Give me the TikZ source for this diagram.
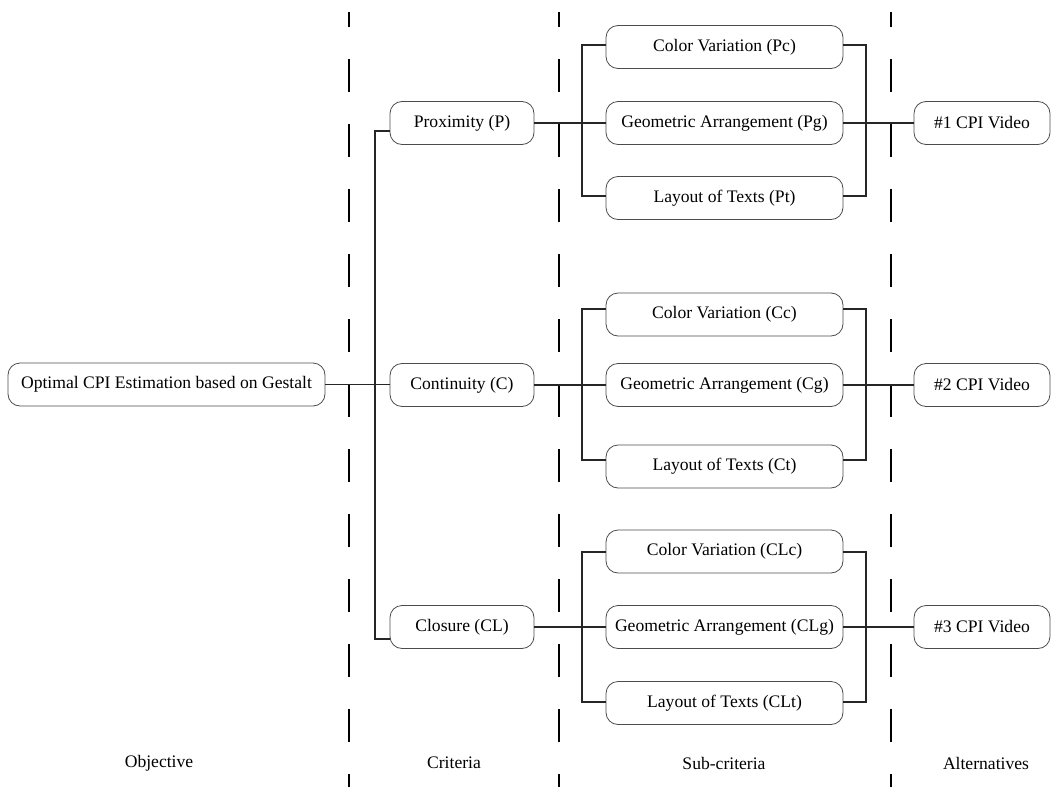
\documentclass[tikz,border=0pt]{standalone}
\usepackage{fontspec}
\setmainfont{Liberation Serif}
\begin{document}
\begin{tikzpicture}[x=1pt,y=-1pt,
  box/.style={draw=black!70, line width=0.8pt, rounded corners=12pt, minimum height=43pt, inner sep=0pt, font=\fontsize{17.6}{20}\selectfont},
  conn/.style={line width=1.3pt, draw=black!85},
  sep/.style={line width=1.2pt, draw=black, dash pattern=on 33pt off 32pt, dash phase=18pt},
  lab/.style={font=\fontsize{17.6}{20}\selectfont}]
\useasboundingbox (0,0) rectangle (1053,787);

% separators
\foreach \i/\x in {1/349,2/559,3/891}{
  \coordinate (s\i t) at (\x,12);
  \coordinate (s\i b) at (\x,787);
  \draw[sep] (s\i t) -- (s\i b);
}

% objective
\node[box, minimum width=317pt] (obj) at (166.5,384.5) {Optimal CPI Estimation based on Gestalt};

% criteria
\node[box, minimum width=144pt] (p)  at (462,123) {Proximity (P)};
\node[box, minimum width=144pt] (c)  at (462,385) {Continuity (C)};
\node[box, minimum width=144pt] (cl) at (462,627) {Closure (CL)};

% sub-criteria
\node[box, minimum width=237pt] (pc) at (724.5,47) {Color Variation (Pc)};
\node[box, minimum width=237pt] (pg) at (724.5,123) {Geometric Arrangement (Pg)};
\node[box, minimum width=237pt] (pt) at (724.5,198) {Layout of Texts (Pt)};

\node[box, minimum width=237pt] (cc) at (724.5,314.5) {Color Variation (Cc)};
\node[box, minimum width=237pt] (cg) at (724.5,385) {Geometric Arrangement (Cg)};
\node[box, minimum width=237pt] (ct) at (724.5,466.5) {Layout of Texts (Ct)};

\node[box, minimum width=237pt] (clc) at (724.5,551.5) {Color Variation (CLc)};
\node[box, minimum width=237pt] (clg) at (724.5,627) {Geometric Arrangement (CLg)};
\node[box, minimum width=237pt] (clt) at (724.5,703) {Layout of Texts (CLt)};

% alternatives
\node[box, minimum width=136pt] (a1) at (982,123) {\#1 CPI Video};
\node[box, minimum width=136pt] (a2) at (982,385) {\#2 CPI Video};
\node[box, minimum width=136pt] (a3) at (982,627) {\#3 CPI Video};

% bottom labels
\node[lab] (l1) at (159,763) {Objective};
\node[lab] (l2) at (454,763) {Criteria};
\node[lab] (l3) at (724,763) {Sub-criteria};
\node[lab] (l4) at (986,763) {Alternatives};

% objective -> criteria
\coordinate (cb) at (375,385);
\draw[conn] (obj.east) -- (obj.east -| c.west);
\draw[conn] ([yshift=-8pt]p.west) -| (cb) |- ([yshift=-12pt]cl.west);

% group P
\coordinate (lp) at (582,123);
\coordinate (rp) at (866,123);
\draw[conn] (p.east) -- (pg.west);
\draw[conn] ([yshift=2pt]pc.west) -| (lp) |- ([yshift=2pt]pt.west);
\draw[conn] ([yshift=2pt]pc.east) -| (rp) |- ([yshift=2pt]pt.east);
\draw[conn] (pg.east) -- (a1.west);

% group C
\coordinate (lc) at (582,385);
\coordinate (rc) at (866,385);
\draw[conn] (c.east) -- (cg.west);
\draw[conn] ([yshift=5.5pt]cc.west) -| (lc) |- ([yshift=6.5pt]ct.west);
\draw[conn] ([yshift=5.5pt]cc.east) -| (rc) |- ([yshift=6.5pt]ct.east);
\draw[conn] (cg.east) -- (a2.west);

% group CL
\coordinate (lcl) at (582,627);
\coordinate (rcl) at (866,627);
\draw[conn] (cl.east) -- (clg.west);
\draw[conn] ([yshift=-0.5pt]clc.west) -| (lcl) |- ([yshift=1pt]clt.west);
\draw[conn] ([yshift=-0.5pt]clc.east) -| (rcl) |- ([yshift=1pt]clt.east);
\draw[conn] (clg.east) -- (a3.west);
\end{tikzpicture}
\end{document}
